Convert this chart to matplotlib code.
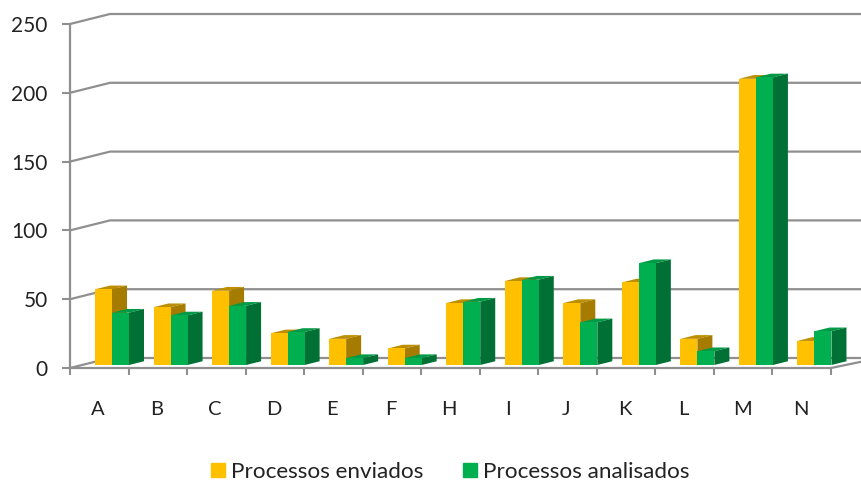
import matplotlib
matplotlib.use('Agg')
import matplotlib.pyplot as plt
from matplotlib.patches import Patch

plt.rcParams['font.family'] = ['Lato', 'DejaVu Sans']

categorias = ['A', 'B', 'C', 'D', 'E', 'F', 'H', 'I', 'J', 'K', 'L', 'M', 'N']
enviados = [55, 42, 54, 23, 19, 12, 45, 61, 45, 60, 19, 208, 17.5]
analisados = [38, 36, 43, 24, 5, 5, 46, 62, 31, 74, 10, 209, 24.5]
y_ticks = [0, 50, 100, 150, 200, 250]

AMARELO = ('#FFC000', '#BC8E00', '#A67C00')
VERDE = ('#00B050', '#009A46', '#007034')
CINZA = '#8F8F8F'

W, H = 862, 484
fig = plt.figure(figsize=(W / 100, H / 100), dpi=100)
ax = fig.add_axes([70 / W, (H - 368) / H, 761 / W, 344 / H])
ax.set_xlim(0, 13)
ax.set_ylim(0, 250)

# pixel sizes turned into data units
px_x = 13 / 761
px_y = 250 / 344

wall_dx, wall_dy = 40 * px_x, 10 * px_y
bar_dx, bar_dy = 15 * px_x, 3.75 * px_y
bar_w = 17 * px_x
bar_start = 25 * px_x
lift = 3 * px_y
right_end = 790 * px_x

# back wall gridlines and floor
for v in y_ticks:
    ax.plot([0, wall_dx, right_end], [v, v + wall_dy, v + wall_dy],
            color=CINZA, lw=1.6, clip_on=False, zorder=1, solid_joinstyle='round')
ax.plot([13, right_end], [0, 6 * px_y], color=CINZA, lw=1.6, clip_on=False, zorder=1)


def bar3d(x, val, cores, z):
    front, top, side = cores
    ax.bar(x, val, bar_w, bottom=lift, align='edge', color=front, linewidth=0, zorder=z + 0.2)
    t = lift + val
    ax.fill([x, x + bar_dx, x + bar_w + bar_dx, x + bar_w],
            [t, t + bar_dy, t + bar_dy, t], color=top, lw=0, zorder=z, clip_on=False)
    ax.fill([x + bar_w, x + bar_w + bar_dx, x + bar_w + bar_dx, x + bar_w],
            [lift, lift + bar_dy, t + bar_dy, t], color=side, lw=0, zorder=z + 0.1, clip_on=False)


for i in range(len(categorias)):
    x0 = i + bar_start
    bar3d(x0, enviados[i], AMARELO, 3 + i)
    bar3d(x0 + bar_w, analisados[i], VERDE, 3.5 + i)

for s in ('top', 'right'):
    ax.spines[s].set_visible(False)
for s in ('left', 'bottom'):
    ax.spines[s].set_color(CINZA)
    ax.spines[s].set_linewidth(1.6)
    ax.spines[s].set_zorder(2)

ax.set_yticks(y_ticks)
ax.tick_params(axis='y', length=5.5, width=1.5, color=CINZA, pad=10.5,
               labelsize=15, labelcolor='#222222')
ax.set_xticks(range(14))
ax.set_xticklabels([])
ax.tick_params(axis='x', which='major', length=5, width=1.5, color=CINZA)
ax.set_xticks([i + 0.48 for i in range(13)], minor=True)
ax.set_xticklabels(categorias, minor=True)
ax.tick_params(axis='x', which='minor', length=0, pad=24, labelsize=14.5, labelcolor='#222222')

handles = [Patch(color=AMARELO[0], label='Processos enviados'),
           Patch(color=VERDE[0], label='Processos analisados')]
fig.legend(handles=handles, loc='center', bbox_to_anchor=(450.5 / W, (H - 472) / H), ncol=2,
           frameon=False, fontsize=16.2, handlelength=0.62, handleheight=0.62,
           handletextpad=0.27, columnspacing=1.78, labelcolor='#222222',
           borderpad=0, borderaxespad=0)

fig.savefig('out.png', dpi=100)
